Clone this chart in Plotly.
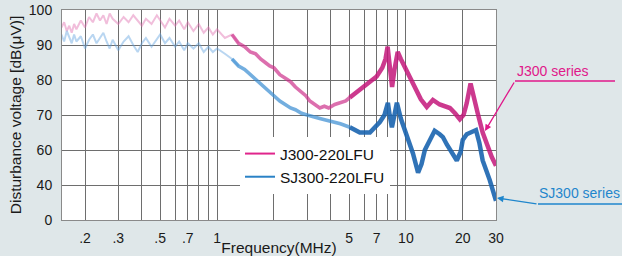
import plotly.graph_objects as go
import numpy as np

# ---------------- data ----------------
freq_j300 = [0.15, 0.155, 0.16, 0.165, 0.17, 0.175, 0.18, 0.19, 0.2, 0.21, 0.22, 0.23, 0.24, 0.25,
             0.26, 0.27, 0.28, 0.3, 0.32, 0.34, 0.36, 0.38, 0.4, 0.42, 0.45, 0.48, 0.5, 0.53, 0.56,
             0.6, 0.63, 0.67, 0.7, 0.75, 0.8, 0.85, 0.9, 0.95, 1.0, 1.1, 1.2, 1.3, 1.4, 1.5, 1.6,
             1.7, 1.8, 1.9, 2.0, 2.15, 2.3, 2.45, 2.6, 2.8, 2.95, 3.1, 3.3, 3.5, 3.7, 3.9, 4.2, 4.5,
             4.8, 5.05, 5.5, 6.0, 6.5, 7.0, 7.5, 7.8, 8.0, 8.2, 8.45, 8.7, 9.05, 9.4, 9.8, 10.3,
             10.8, 11.4, 12.0, 12.9, 13.9, 15.1, 16.0, 17.1, 18.2, 19.3, 20.2, 21.0, 22.0, 22.8,
             24.0, 25.5, 27.0, 28.5, 30.0]
j300_dbuv = [95, 96.5, 94, 95.5, 93.5, 96, 94.5, 97, 95, 98, 96.5, 99, 97, 98.5,
             96, 99, 97.5, 96, 98, 96.5, 98.5, 97, 95.5, 97.5, 96, 98.5, 97, 95, 97.5,
             95.5, 97, 94.5, 96.5, 94, 96, 93.5, 95, 93, 94.5, 92, 93, 90.5, 89.5, 88, 87.5,
             86, 85, 84, 83.5, 81.5, 80.5, 79.5, 78, 76.5, 75.5, 74, 73, 72, 72.5, 72, 73, 73.5,
             74, 75, 76.5, 78, 79.5, 81, 83.5, 86, 89.5, 85, 78, 83, 88, 86, 84, 82,
             80, 77, 74.5, 72.3, 74.3, 73, 72.5, 72, 70.5, 68.8, 70, 73.4, 79, 76,
             70.5, 65, 61, 58, 55.5]

freq_sj300 = [0.15, 0.155, 0.16, 0.165, 0.17, 0.175, 0.18, 0.19, 0.2, 0.21, 0.22, 0.23, 0.24, 0.25,
              0.26, 0.27, 0.28, 0.3, 0.32, 0.34, 0.36, 0.38, 0.4, 0.42, 0.45, 0.48, 0.5, 0.53, 0.56,
              0.6, 0.63, 0.67, 0.7, 0.75, 0.8, 0.85, 0.9, 0.95, 1.0, 1.1, 1.2, 1.3, 1.4, 1.5, 1.6,
              1.7, 1.8, 1.9, 2.0, 2.15, 2.3, 2.45, 2.6, 2.8, 3.0, 3.2, 3.5, 3.8, 4.2, 4.5, 5.05,
              5.7, 6.45, 7.28, 7.7, 8.03, 8.2, 8.43, 8.7, 8.96, 9.4, 9.88, 10.4, 10.9, 11.6, 12.1,
              12.6, 13.4, 14.2, 15.1, 15.7, 16.5, 17.1, 18.6, 19.5, 20.0, 21.0, 21.8, 23.5, 24.5,
              25.5, 27.8, 29.6, 30.0]
sj300_dbuv = [93, 91, 94, 92, 90.5, 93, 91, 92.5, 89, 91.5, 93, 90.5, 92, 93.5,
              91, 89, 91.5, 88.5, 91, 92.5, 90, 88, 90.5, 92, 89.5, 91.5, 93, 90.5, 92,
              89.5, 91, 88.5, 90.5, 89, 90.5, 88, 89.5, 88, 89, 87.5, 86, 84, 83, 81.5, 80,
              79, 77.5, 76.5, 75.5, 74, 73, 72, 71.5, 70.5, 70, 69.5, 69, 68.5, 68, 67.5, 66.5,
              65, 65, 68, 70, 73.5, 70, 66.5, 70, 73.5, 69, 65.7, 62, 59, 53.5, 56,
              60, 63, 65.5, 64.5, 63.7, 61.5, 60, 57, 59.5, 62.9, 64.5, 65, 65.7, 62,
              57, 51.4, 46.6, 45.5]

x_tick_vals = [0.2, 0.3, 0.4, 0.5, 0.6, 0.7, 0.8, 0.9, 1, 2, 3, 4, 5, 6, 7, 8, 9, 10, 20, 30]
x_tick_text = [".2", ".3", "", ".5", "", ".7", "", "", "1", "", "", "", "5", "", "7", "", "", "10", "20", "30"]
y_tick_vals = [40, 50, 60, 70, 80, 90, 100]
y_tick_text = ["0", "40", "60", "70", "80", "90", "100"]

series_names = ["J300-220LFU", "SJ300-220LFU"]

# ---------------- styling ----------------
FONT = "Arial, Liberation Sans, Helvetica, sans-serif"
pink = ["rgba(225,110,175,0.45)", "rgba(205,50,140,0.7)", "rgba(195,22,122,0.85)"]
blue = ["rgba(100,165,225,0.45)", "rgba(55,140,210,0.7)", "rgba(25,100,175,0.9)"]
widths = [2.0, 3.6, 4.5]
bands = [(0, 1.3), (1.2, 5.2), (5.0, 100)]

fig = go.Figure()

def add_series(freqs, vals, colors, name, legend_color):
    f = np.array(freqs)
    v = np.array(vals)
    for (lo, hi), c, w in zip(bands, colors, widths):
        m = (f >= lo) & (f <= hi)
        fig.add_trace(go.Scatter(x=f[m], y=v[m], mode="lines",
                                 line=dict(color=c, width=w),
                                 showlegend=False, hoverinfo="skip"))
    fig.add_trace(go.Scatter(x=[None], y=[None], mode="lines", name=name,
                             line=dict(color=legend_color, width=2)))

add_series(freq_j300, j300_dbuv, pink, series_names[0], "#e0258c")
add_series(freq_sj300, sj300_dbuv, blue, series_names[1], "#2a82c6")

# plot area in pixels: x 62..496, y 10..220
L, R, T, B = 62, 496, 10, 220
W, H = R - L, B - T
def px(x):
    return (x - L) / W
def py(y):
    return (B - y) / H

fig.update_layout(
    width=622, height=256,
    margin=dict(l=L, r=622 - R, t=T, b=256 - B, autoexpand=False),
    paper_bgcolor="#dfe7e9",
    plot_bgcolor="white",
    font=dict(family=FONT, size=14, color="#1a1a1a"),
    showlegend=True,
    legend=dict(x=px(240), y=py(137), xanchor="left", yanchor="top",
                bgcolor="white", borderwidth=0, font=dict(size=15.5, color="#111"),
                tracegroupgap=0, itemwidth=30, traceorder="normal"),
)

fig.update_xaxes(type="log", range=[np.log10(0.151), np.log10(30.0)],
                 tickvals=x_tick_vals, ticktext=x_tick_text,
                 showgrid=True, gridcolor="#6e6e6e", gridwidth=1,
                 showline=True, linecolor="#8a8a8a", mirror=True,
                 ticks="outside", ticklen=5, tickcolor="rgba(0,0,0,0)",
                 tickfont=dict(size=14), automargin=False,
                 title=dict(text="Frequency(MHz)", font=dict(size=15.5), standoff=7),
                 zeroline=False)
fig.update_yaxes(range=[40, 100], tickvals=y_tick_vals, ticktext=y_tick_text,
                 showgrid=True, gridcolor="#6e6e6e", gridwidth=1,
                 showline=True, linecolor="#8a8a8a", mirror=True,
                 ticks="outside", ticklen=6, tickcolor="rgba(0,0,0,0)",
                 tickfont=dict(size=14), automargin=False,
                 title=dict(text="Disturbance voltage [dB(μV)]", font=dict(size=15.5), standoff=3),
                 zeroline=False)

# callouts
J_COL = "#e0188a"
S_COL = "#1f86cc"
fig.add_shape(type="line", xref="paper", yref="paper",
              x0=px(615), y0=py(81), x1=px(515), y1=py(81),
              line=dict(color=J_COL, width=1.3))
fig.add_annotation(xref="paper", yref="paper", x=px(485), y=py(131),
                   ax=515 - 485, ay=81 - 131,
                   text="", showarrow=True, arrowhead=2, arrowsize=1, arrowwidth=1.3,
                   arrowcolor=J_COL)
fig.add_annotation(xref="paper", yref="paper", x=px(553), y=py(71),
                   xanchor="center", yanchor="middle",
                   text="J300 series", showarrow=False,
                   font=dict(size=14, color=J_COL))

fig.add_shape(type="line", xref="paper", yref="paper",
              x0=px(622), y0=py(204), x1=px(538), y1=py(204),
              line=dict(color=S_COL, width=1.3))
fig.add_annotation(xref="paper", yref="paper", x=px(497), y=py(198),
                   ax=538 - 497, ay=204 - 198,
                   text="", showarrow=True, arrowhead=2, arrowsize=1, arrowwidth=1.3,
                   arrowcolor=S_COL)
fig.add_annotation(xref="paper", yref="paper", x=px(579), y=py(193),
                   xanchor="center", yanchor="middle",
                   text="SJ300 series", showarrow=False,
                   font=dict(size=14, color=S_COL))

fig.write_html("out.html", config={"displayModeBar": False},
               post_script="document.body.style.margin='0';document.body.style.overflow='hidden';")
